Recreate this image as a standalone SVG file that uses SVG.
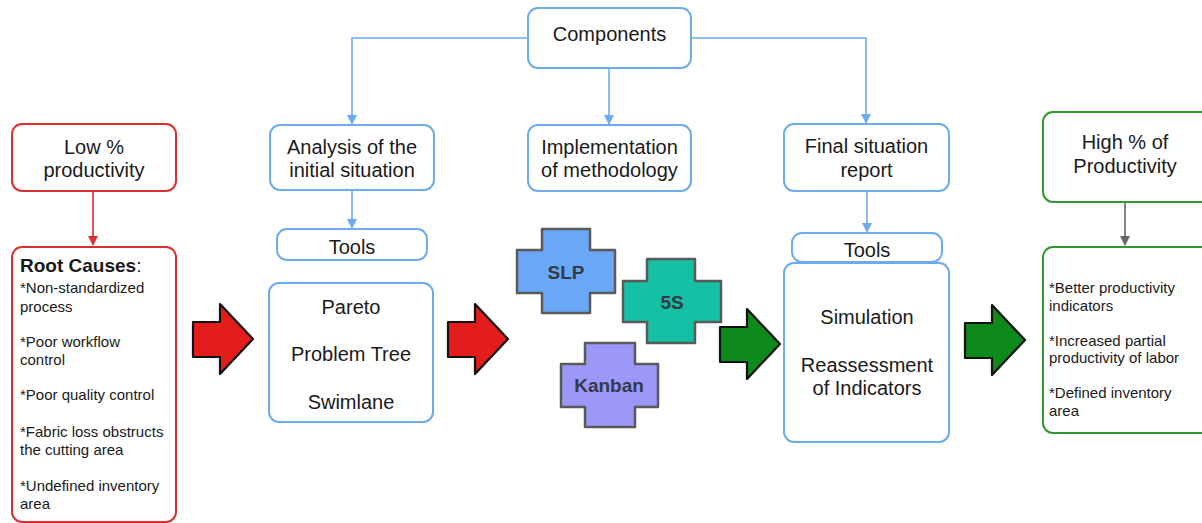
<svg xmlns="http://www.w3.org/2000/svg" width="1202" height="523" viewBox="0 0 1202 523">
<style>
text{font-family:"Liberation Sans",Arial,sans-serif;fill:#1a1a1a}
.t{font-size:20px;text-anchor:middle}
.s{font-size:15px}
.b{fill:#fff;stroke:#6cabf0;stroke-width:2}
.r{fill:#fff;stroke:#d93030;stroke-width:2}
.g{fill:#fff;stroke:#2f9a2f;stroke-width:2}
.bl{fill:none;stroke:#6cabf0;stroke-width:1.6}
.cr{stroke:#5a5a5a;stroke-width:2.5;stroke-linejoin:round}
.ct{font-size:19px;font-weight:bold;text-anchor:middle;fill:#333a48}
.ar{stroke:#111;stroke-width:2.2;stroke-linejoin:round}
</style>
<defs>
<marker id="mb" markerWidth="10" markerHeight="10" refX="9" refY="5" orient="auto" markerUnits="userSpaceOnUse"><path d="M0,0 L10,5 L0,10 Z" fill="#6cabf0"/></marker>
<marker id="mr" markerWidth="10" markerHeight="10" refX="9" refY="5" orient="auto" markerUnits="userSpaceOnUse"><path d="M0,0 L10,5 L0,10 Z" fill="#d93030"/></marker>
<marker id="mg" markerWidth="10" markerHeight="10" refX="9" refY="5" orient="auto" markerUnits="userSpaceOnUse"><path d="M0,0 L10,5 L0,10 Z" fill="#666"/></marker>
<path id="arrow" d="M0,18 L27,18 L27,0 L60,35 L27,70 L27,53 L0,53 Z"/>
</defs>
<rect width="1202" height="523" fill="#fff"/>

<g id="connectors">
<path class="bl" d="M528,38 H352 V124" marker-end="url(#mb)"/>
<path class="bl" d="M691,38 H866 V123" marker-end="url(#mb)"/>
<path class="bl" d="M609,68 V124" marker-end="url(#mb)"/>
<path class="bl" d="M352,190 V228" marker-end="url(#mb)"/>
<path class="bl" d="M867,191 V232" marker-end="url(#mb)"/>
<path d="M93,191 V245" fill="none" stroke="#d93030" stroke-width="1.6" marker-end="url(#mr)"/>
<path d="M1125,202 V245" fill="none" stroke="#666" stroke-width="1.6" marker-end="url(#mg)"/>
<use href="#arrow" class="ar" fill="#e31c1c" transform="translate(193,304)"/>
<use href="#arrow" class="ar" fill="#e31c1c" transform="translate(448,304)"/>
<use href="#arrow" class="ar" fill="#0e8a1c" transform="translate(720,309)"/>
<use href="#arrow" class="ar" fill="#0e8a1c" transform="translate(965,305)"/>
</g>

<g id="components">
<rect class="b" x="528" y="8" width="163" height="60" rx="10"/>
<text class="t" x="609.5" y="41">Components</text>
</g>

<g id="analysis">
<rect class="b" x="270" y="125" width="164" height="65" rx="10"/>
<text class="t" x="352" y="154">Analysis of the</text>
<text class="t" x="352" y="177">initial situation</text>
</g>

<g id="implementation">
<rect class="b" x="528" y="125" width="163" height="66" rx="10"/>
<text class="t" x="609.5" y="154">Implementation</text>
<text class="t" x="609.5" y="177">of methodology</text>
</g>

<g id="final">
<rect class="b" x="784" y="124" width="165" height="67" rx="10"/>
<text class="t" x="866.5" y="153">Final situation</text>
<text class="t" x="866.5" y="177">report</text>
</g>

<g id="tools-left">
<rect class="b" x="277" y="229" width="150" height="31" rx="10"/>
<text class="t" x="352" y="254">Tools</text>
</g>

<g id="tools-left-list">
<rect class="b" x="269" y="283" width="164" height="139" rx="10"/>
<text class="t" x="351" y="314">Pareto</text>
<text class="t" x="351" y="361">Problem Tree</text>
<text class="t" x="351" y="409">Swimlane</text>
</g>

<g id="tools-right">
<rect class="b" x="792" y="233" width="150" height="29" rx="10"/>
<text class="t" x="867" y="257">Tools</text>
</g>

<g id="tools-right-list">
<rect class="b" x="784" y="263" width="165" height="179" rx="10"/>
<text class="t" x="867" y="324">Simulation</text>
<text class="t" x="867" y="372">Reassessment</text>
<text class="t" x="867" y="395">of Indicators</text>
</g>

<g id="slp">
<path class="cr" fill="#6aa8f7" d="M542,229 H590 V250 H615 V293 H590 V313 H542 V293 H517 V250 H542 Z"/>
<text class="ct" x="566" y="279">SLP</text>
</g>
<g id="fives">
<path class="cr" fill="#16c0a4" d="M647,259 H695 V281 H721 V322 H695 V343 H647 V322 H623 V281 H647 Z"/>
<text class="ct" x="672" y="309">5S</text>
</g>
<g id="kanban">
<path class="cr" fill="#9b98fa" d="M585,343 H635 V364 H658 V407 H635 V427 H585 V407 H561 V364 H585 Z"/>
<text class="ct" x="609" y="392">Kanban</text>
</g>

<g id="low">
<rect class="r" x="12" y="124" width="164" height="67" rx="10"/>
<text class="t" x="94" y="154">Low %</text>
<text class="t" x="94" y="177">productivity</text>
</g>

<g id="root">
<rect class="r" x="12" y="247" width="164" height="275" rx="10"/>
<text x="20" y="272" style="font-size:19px"><tspan font-weight="bold">Root Causes</tspan>:</text>
<text class="s" x="20" y="293">*Non-standardized</text>
<text class="s" x="20" y="312">process</text>
<text class="s" x="20" y="347">*Poor workflow</text>
<text class="s" x="20" y="365">control</text>
<text class="s" x="20" y="400">*Poor quality control</text>
<text class="s" x="20" y="437">*Fabric loss obstructs</text>
<text class="s" x="20" y="455">the cutting area</text>
<text class="s" x="20" y="491">*Undefined inventory</text>
<text class="s" x="20" y="509">area</text>
</g>

<g id="high">
<rect class="g" x="1043" y="112" width="170" height="90" rx="10"/>
<text class="t" x="1125" y="149">High % of</text>
<text class="t" x="1125" y="173">Productivity</text>
</g>

<g id="results">
<rect class="g" x="1043" y="247" width="170" height="186" rx="10"/>
<text class="s" x="1049" y="293">*Better productivity</text>
<text class="s" x="1049" y="311">indicators</text>
<text class="s" x="1049" y="346">*Increased partial</text>
<text class="s" x="1049" y="363">productivity of labor</text>
<text class="s" x="1049" y="398">*Defined inventory</text>
<text class="s" x="1049" y="416">area</text>
</g>
</svg>
